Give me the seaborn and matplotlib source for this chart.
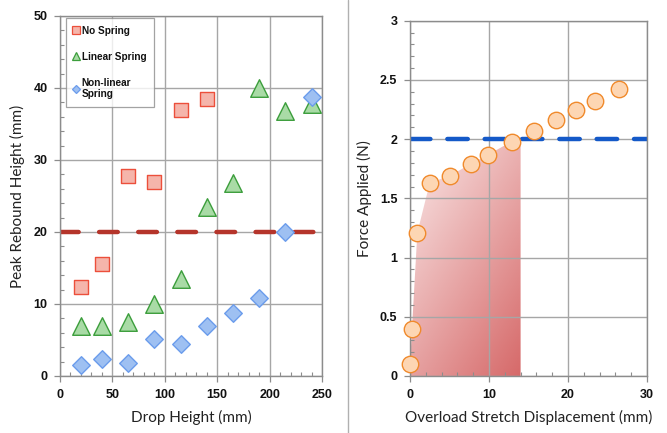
import os
import numpy as np
import pandas as pd
import matplotlib
matplotlib.use("Agg")
import matplotlib.pyplot as plt
from matplotlib.patches import Polygon
from matplotlib.ticker import MultipleLocator
from matplotlib.lines import Line2D
from matplotlib import font_manager
from matplotlib.font_manager import FontProperties
import seaborn as sns

# ---------------- data ----------------
drop_no_spring = [20, 40, 65, 90, 115, 140]
rebound_no_spring = [12.3, 15.6, 27.8, 27.0, 36.9, 38.5]

drop_linear = [20, 40, 65, 90, 115, 140, 165, 190, 215, 240]
rebound_linear = [7.0, 7.0, 7.5, 10.0, 13.5, 23.5, 26.8, 40.0, 36.8, 37.8]

drop_nonlinear = [20, 40, 65, 90, 115, 140, 165, 190, 215, 240]
rebound_nonlinear = [1.5, 2.3, 1.8, 5.2, 4.5, 7.0, 8.8, 10.9, 20.0, 38.8]

rebound_threshold = 20

stretch = [0.0, 0.25, 0.93, 2.5, 5.0, 7.7, 9.9, 12.9, 15.7, 18.5, 21.0, 23.4, 26.4]
force = [0.10, 0.40, 1.21, 1.63, 1.69, 1.79, 1.87, 1.98, 2.07, 2.16, 2.25, 2.32, 2.42]

force_threshold = 2.0
overload_limit = 14

series_labels = ["No Spring", "Linear Spring", "Non-linear\nSpring"]

left_xticks = [0, 50, 100, 150, 200, 250]
left_yticks = [0, 10, 20, 30, 40, 50]
right_xticks = [0, 10, 20, 30]
right_yticks = [0, 0.5, 1, 1.5, 2, 2.5, 3]

# ---------------- style ----------------
sns.set_theme(style="white")
plt.rcParams["font.family"] = ["Lato", "DejaVu Sans"]

# locate a real (heavy) bold font file
def find_bold_file():
    prefs = ["liberationsans-bold", "opensans-bold", "notosans-bold", "roboto-bold"]
    files = {os.path.basename(f.fname).lower(): f.fname
             for f in font_manager.fontManager.ttflist}
    for p in prefs:
        for base, path in files.items():
            if base.startswith(p) and "italic" not in base:
                return path
    return os.path.join(matplotlib.get_data_path(), "fonts", "ttf", "DejaVuSans-Bold.ttf")

BOLD_FILE = find_bold_file()

def bold_fp(size):
    return FontProperties(fname=BOLD_FILE, size=size)

W, H = 667, 433
fig = plt.figure(figsize=(W / 100, H / 100), dpi=100)

ax1 = fig.add_axes([60 / W, 1 - 376 / H, (322 - 60) / W, (376 - 16) / H])
ax2 = fig.add_axes([410 / W, 1 - 376 / H, (647 - 410) / W, (376 - 20.7) / H])

grid_col = "#a6a6a6"
spine_col = "#8c8c8c"

red_face, red_edge = "#f5b5ab", "#ec4f3b"
grn_face, grn_edge = "#a9dba6", "#3c9e3c"
blu_face, blu_edge = "#9ec0f2", "#6b9cec"
org_face, org_edge = "#fdd6b3", "#f08a2c"

# ---------------- left panel ----------------
df_no = pd.DataFrame({"x": drop_no_spring, "y": rebound_no_spring})
df_lin = pd.DataFrame({"x": drop_linear, "y": rebound_linear})
df_non = pd.DataFrame({"x": drop_nonlinear, "y": rebound_nonlinear})

ax1.axhline(rebound_threshold, color="#b5352b", lw=3.2, ls=(0, (4.2, 4.6)),
            dash_capstyle="round", zorder=2)

sns.scatterplot(data=df_no, x="x", y="y", ax=ax1, marker="s", s=115,
                color=red_face, edgecolor=red_edge, linewidth=1.0, zorder=3)
sns.scatterplot(data=df_lin, x="x", y="y", ax=ax1, marker="^", s=160,
                color=grn_face, edgecolor=grn_edge, linewidth=1.0, zorder=3)
sns.scatterplot(data=df_non, x="x", y="y", ax=ax1, marker="D", s=80,
                color=blu_face, edgecolor=blu_edge, linewidth=1.0, zorder=4)

ax1.set_xlim(0, 250)
ax1.set_ylim(0, 50)
ax1.xaxis.set_minor_locator(MultipleLocator(10))
ax1.yaxis.set_minor_locator(MultipleLocator(2))
ax1.set_xlabel("Drop Height (mm)", fontsize=11, color="#222222", labelpad=7)
ax1.set_ylabel("Peak Rebound Height (mm)", fontsize=11, color="#222222", labelpad=6)

handles = [
    Line2D([], [], ls="none", marker="s", ms=5.5, mfc=red_face, mec=red_edge, mew=0.9),
    Line2D([], [], ls="none", marker="^", ms=6, mfc=grn_face, mec=grn_edge, mew=0.9),
    Line2D([], [], ls="none", marker="D", ms=4.5, mfc=blu_face, mec=blu_edge, mew=0.9),
]
leg = ax1.legend(handles, series_labels, loc="upper left",
                 bbox_to_anchor=(0.022, 0.994), frameon=True, fancybox=False,
                 prop=bold_fp(7.2),
                 labelspacing=1.6, handlelength=0.6, handletextpad=0.25,
                 borderpad=0.75, borderaxespad=0.0)
leg.get_frame().set_edgecolor("#8c8c8c")
leg.get_frame().set_linewidth(0.9)
for t in leg.get_texts():
    t.set_multialignment("left")
    t.set_color("#111111")
leg.set_zorder(5)

# ---------------- right panel ----------------
st = np.array(stretch)
fo = np.array(force)
mask = st < overload_limit
poly_pts = [(0, 0)] + list(zip(st[mask], fo[mask])) + \
           [(overload_limit, force_threshold), (overload_limit, 0)]

nx, ny = 200, 200
u = np.linspace(0, 1, nx)[None, :]
v = np.linspace(0, 1, ny)[:, None]   # 0 at bottom (origin lower)
t = np.clip((u * 0.55 + (1 - v) * 0.75) / 1.3, 0, 1)
light = np.array([251, 236, 236]) / 255
dark = np.array([214, 105, 105]) / 255
img = light[None, None, :] * (1 - t[..., None]) + dark[None, None, :] * t[..., None]
im = ax2.imshow(img, extent=[0, overload_limit, 0, 2.05], origin="lower",
                aspect="auto", zorder=0.2, interpolation="bilinear")
patch = Polygon(poly_pts, closed=True, transform=ax2.transData,
                facecolor="none", edgecolor="none")
ax2.add_patch(patch)
im.set_clip_path(patch)

ax2.axhline(force_threshold, color="#1459c8", lw=3.2, ls=(0, (4.6, 3.8)),
            dash_capstyle="round", zorder=2)

df_f = pd.DataFrame({"x": stretch, "y": force})
sns.scatterplot(data=df_f, x="x", y="y", ax=ax2, marker="o", s=140,
                color=org_face, edgecolor=org_edge, linewidth=1.0, zorder=3,
                clip_on=False)

ax2.set_xlim(0, 30)
ax2.set_ylim(0, 3)
ax2.xaxis.set_minor_locator(MultipleLocator(2))
ax2.yaxis.set_minor_locator(MultipleLocator(0.1))
ax2.set_xlabel("Overload Stretch Displacement (mm)", fontsize=11, color="#222222",
               labelpad=7)
ax2.set_ylabel("Force Applied (N)", fontsize=11, color="#222222", labelpad=6)

# ---------------- common axes styling ----------------
for ax, xt, yt in ((ax1, left_xticks, left_yticks), (ax2, right_xticks, right_yticks)):
    ax.set_xticks(xt, [f"{v:g}" for v in xt], fontproperties=bold_fp(9), color="#111111")
    ax.set_yticks(yt, [f"{v:g}" for v in yt], fontproperties=bold_fp(9), color="#111111")
    ax.set_axisbelow(True)
    ax.grid(True, which="major", color=grid_col, lw=1.0)
    for s in ax.spines.values():
        s.set_color(spine_col)
        s.set_linewidth(1.0)
    ax.tick_params(which="major", direction="out", length=4, width=0.9,
                   color=spine_col, pad=5, left=True, bottom=True)
    ax.tick_params(which="minor", direction="in", length=3, width=0.8,
                   color=spine_col, left=True, bottom=True)

# separator line between panels
fig.add_artist(Line2D([348 / W, 348 / W], [0, 1], transform=fig.transFigure,
                      color="#b0b0b0", lw=1.0))

fig.savefig("out.png", dpi=100)
